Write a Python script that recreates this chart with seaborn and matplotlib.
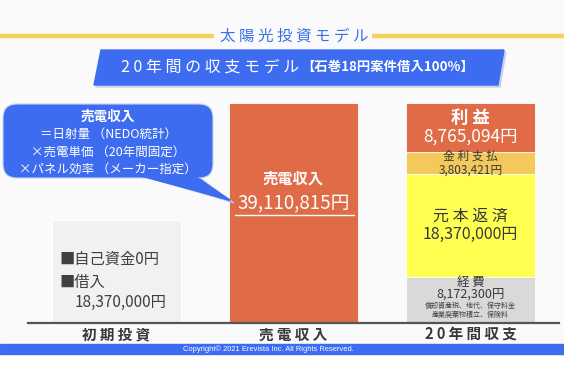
import numpy as np
import pandas as pd
import matplotlib.pyplot as plt
import seaborn as sns
from matplotlib.patches import FancyBboxPatch, Polygon, Rectangle

# データ
categories = ["初期投資", "売電収入", "20年間収支"]
initial_loan = 18370000
sales_revenue = 39110815
# 20年間収支の内訳（下から積み上げ）
breakdown_names = ["経費", "元本返済", "金利支払", "利益"]
breakdown_values = [8172300, 18370000, 3803421, 8765094]
breakdown_colors = ["#d9d9d9", "#ffff50", "#f4c95c", "#e06c47"]
expense_notes = ["償却資産税、地代、保守料金", "産業廃棄物積立、保険料"]
callout_lines = ["売電収入", "＝日射量 （NEDO統計）", "×売電単価 （20年間固定）", "×パネル効率 （メーカー指定）"]

sns.set_theme(style="white")
plt.rcParams["font.family"] = ["Noto Sans CJK JP", "DejaVu Sans"]

BLUE = "#3d6cf0"
DARK = "#383838"


def spaced(s):
    return " ".join(s)


def yen(v):
    return f"{v:,}円"


fig = plt.figure(figsize=(5.64, 3.76), dpi=100)
fig.patch.set_facecolor("#fafafa")

# 背景・装飾（ピクセル座標）
bg = fig.add_axes([0, 0, 1, 1], zorder=0)
bg.set_xlim(0, 564)
bg.set_ylim(376, 0)
bg.axis("off")
bg.add_patch(Rectangle((0, 354), 564, 22, color="white"))
bg.add_patch(Rectangle((0, 344), 564, 10, color=BLUE))
bg.text(268, 349.5, "Copyright© 2021 Erevista Inc. All Rights Reserved.", color="white",
        fontsize=5.4, family=["Liberation Sans", "DejaVu Sans"], ha="center", va="center")
bg.plot([0, 214], [36, 36], color="#f5d25c", lw=3.2, solid_capstyle="butt")
bg.plot([372, 564], [36, 36], color="#f5d25c", lw=3.2, solid_capstyle="butt")
bg.text(294, 36, spaced("太陽光投資モデル"), color="#3b6fe8", fontsize=11.2,
        ha="center", va="center")
bg.add_patch(Polygon([(103, 52), (506, 52), (500, 87), (96, 87)], closed=True, color="#c9d3e8"))
bg.add_patch(Polygon([(101, 50), (504, 50), (498, 85), (94, 85)], closed=True, color=BLUE))
bg.text(299, 67, spaced("20年間の収支モデル"), color="white", fontsize=11.5,
        ha="right", va="center")
bg.text(301, 67, "【石巻18円案件借入100%】", color="white", fontsize=9.6,
        fontweight="bold", ha="left", va="center")

# メインの棒グラフ
ax = fig.add_axes([28 / 564, (376 - 323) / 376, 531 / 564, 233 / 376], zorder=1)
ax.patch.set_alpha(0)

totals = pd.DataFrame({"cat": categories,
                       "value": [initial_loan, sales_revenue, sum(breakdown_values)]})
bar_w = 0.734
sns.barplot(data=totals, x="cat", y="value", hue="cat", order=categories,
            palette=["#f1f1f1", "#e06c47", breakdown_colors[-1]], width=bar_w,
            saturation=1, legend=False, ax=ax, edgecolor="white", linewidth=0.6)

tops = np.cumsum(breakdown_values)
for i in range(len(breakdown_values) - 2, -1, -1):
    sns.barplot(x=[categories[2]], y=[tops[i]], order=categories, color=breakdown_colors[i],
                width=bar_w, saturation=1, ax=ax, edgecolor="white", linewidth=0.6)

ax.set_xlim(-0.5, 2.5)
ax.set_ylim(0, 41.42e6)
ax.set_xlabel("")
ax.set_ylabel("")
ax.set_yticks([])
ax.set_xticks(range(3))
ax.set_xticklabels([spaced(c) for c in categories], fontsize=10.5, fontweight="bold", color=DARK)
ax.tick_params(axis="x", length=0, pad=2.5)
for s in ["top", "left", "right"]:
    ax.spines[s].set_visible(False)
ax.spines["bottom"].set_color("#555555")
ax.spines["bottom"].set_linewidth(1.6)

# 初期投資の説明
ax.text(-0.32, initial_loan * 0.62, "■自己資金0円", fontsize=11, color="#404040", va="center")
ax.text(-0.32, initial_loan * 0.395, "■借入", fontsize=11, color="#404040", va="center")
ax.text(-0.236, initial_loan * 0.2, yen(initial_loan), fontsize=11, color="#404040", va="center")

# 売電収入
ax.text(1, sales_revenue * 0.655, "売電収入", fontsize=11, fontweight="bold",
        color="white", ha="center", va="center")
ax.text(1, sales_revenue * 0.54, yen(sales_revenue), fontsize=13.5, color="white",
        ha="center", va="center")
ax.plot([1 - 0.33, 1 + 0.34], [sales_revenue * 0.49] * 2, color="white", lw=1)

# 20年間収支の内訳ラベル
bottoms = tops - np.array(breakdown_values)
mids = bottoms + np.array(breakdown_values) / 2
label_style = [
    # (名前オフセット, 金額オフセット, サイズ, 色)
    (12.5, 3.3, 9, DARK),
    (6.5, -6.5, 11.5, DARK),
    (4.8, -4.8, 8.5, DARK),
    (7, -6.5, 12.5, "white"),
]
for name, v, mid, (o1, o2, fs, col) in zip(breakdown_names, breakdown_values, mids, label_style):
    weight = "bold" if name == "利益" else "normal"
    ax.annotate(spaced(name), (2, mid), xytext=(0, o1), textcoords="offset points",
                ha="center", va="center", fontsize=fs, color=col, fontweight=weight)
    ax.annotate(yen(v), (2, mid), xytext=(0, o2), textcoords="offset points",
                ha="center", va="center", fontsize=fs, color=col)
for k, note in enumerate(expense_notes):
    ax.annotate(note, (2, mids[0]), xytext=(0, -4.6 - 5.8 * k), textcoords="offset points",
                ha="center", va="center", fontsize=5, color="#444444")

# 吹き出し
ov = fig.add_axes([0, 0, 1, 1], zorder=2)
ov.set_xlim(0, 564)
ov.set_ylim(376, 0)
ov.axis("off")
ov.add_patch(Polygon([(135, 174), (195, 174), (234, 203)], closed=True, facecolor=BLUE,
                     edgecolor="#c8d4f0", lw=0.6))
ov.add_patch(FancyBboxPatch((3, 104), 210, 74, boxstyle="round,pad=0,rounding_size=14",
                            facecolor=BLUE, edgecolor="#c8d4f0", lw=0.8))
ov.add_patch(Polygon([(137, 175), (193, 175), (230, 200)], closed=True, color=BLUE))
ov.text(108, 117, callout_lines[0], color="white", fontsize=9.8, fontweight="bold",
        ha="center", va="center")
for line, y in zip(callout_lines[1:], [134.5, 152, 169.5]):
    ov.text(108, y, line, color="white", fontsize=9, ha="center", va="center")

fig.savefig("out.png", dpi=100, facecolor=fig.get_facecolor())
